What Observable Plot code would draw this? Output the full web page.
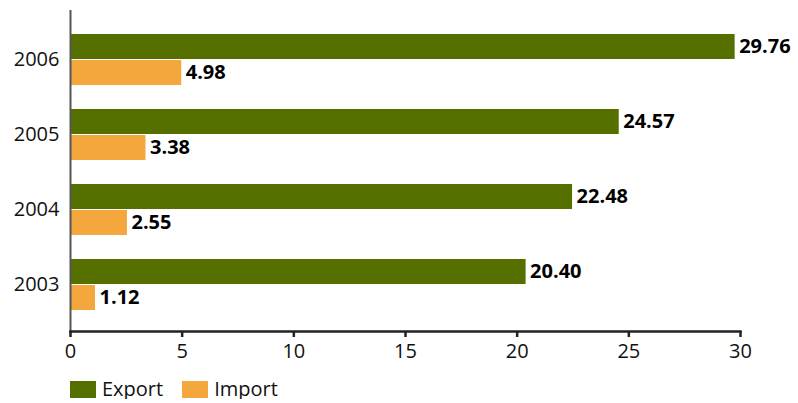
<!DOCTYPE html>
<html>
<head>
<meta charset="utf-8">
<script src="https://cdn.jsdelivr.net/npm/d3@7"></script>
<script src="https://cdn.jsdelivr.net/npm/@observablehq/plot@0.6"></script>
<style>
  body { margin: 0; background: #fff; font-family: "Open Sans", sans-serif; }
  #chart svg { display: block; }
  .legend { display: flex; align-items: center; margin-left: 70px; margin-top: 11px; font-size: 20px; line-height: 20px; height: 20px; color: #111; }
  .legend .item { display: flex; align-items: center; margin-right: 19px; }
  .legend .sw { width: 26px; height: 17px; margin-right: 6px; }
</style>
</head>
<body>
<div id="chart"></div>
<script>
const years = ["2006", "2005", "2004", "2003"];
const exportValues = [29.76, 24.57, 22.48, 20.40];
const importValues = [4.98, 3.38, 2.55, 1.12];
const seriesNames = ["Export", "Import"];
const seriesColors = ["#567000", "#f3a73c"];
const xTicks = [0, 5, 10, 15, 20, 25, 30];

const exportRows = years.map((y, i) => ({year: y, value: exportValues[i], series: "Export"}));
const importRows = years.map((y, i) => ({year: y, value: importValues[i], series: "Import"}));

const fontFamily = "'Open Sans', sans-serif";

const plot = Plot.plot({
  width: 798,
  height: 368,
  marginLeft: 70,
  marginRight: 58,
  marginTop: 10,
  marginBottom: 37,
  style: {fontFamily, fontSize: "20px", color: "#111", background: "#fff"},
  x: {domain: [0, 30]},
  y: {domain: years, paddingInner: 0.316, paddingOuter: 0.27, align: 0.54},
  color: {domain: seriesNames, range: seriesColors},
  marks: [
    Plot.barX(exportRows, {x: "value", y: "year", fill: "series", insetBottom: 26}),
    Plot.barX(importRows, {x: "value", y: "year", fill: "series", insetTop: 26}),
    Plot.text(exportRows, {x: "value", y: "year", text: d => d.value.toFixed(2), dy: -13, dx: 4, textAnchor: "start", fontWeight: "bold", fontSize: 20, fill: "#000"}),
    Plot.text(importRows, {x: "value", y: "year", text: d => d.value.toFixed(2), dy: 13, dx: 4, textAnchor: "start", fontWeight: "bold", fontSize: 20, fill: "#000"}),
    Plot.ruleX([0], {stroke: "#555", strokeWidth: 2}),
    Plot.frame({anchor: "bottom", stroke: "#222", strokeWidth: 2.5}),
    Plot.axisX({ticks: xTicks, tickSize: 6, tickPadding: 6, label: null, stroke: "#222", strokeWidth: 2.5, fontSize: 20}),
    Plot.axisY({tickSize: 0, tickPadding: 11, label: null, fontSize: 20})
  ]
});
document.getElementById("chart").appendChild(plot);

const legend = document.createElement("div");
legend.className = "legend";
seriesNames.forEach((name, i) => {
  const item = document.createElement("div");
  item.className = "item";
  const sw = document.createElement("div");
  sw.className = "sw";
  sw.style.background = seriesColors[i];
  const label = document.createElement("span");
  label.textContent = name;
  item.appendChild(sw);
  item.appendChild(label);
  legend.appendChild(item);
});
document.body.appendChild(legend);
</script>
</body>
</html>
